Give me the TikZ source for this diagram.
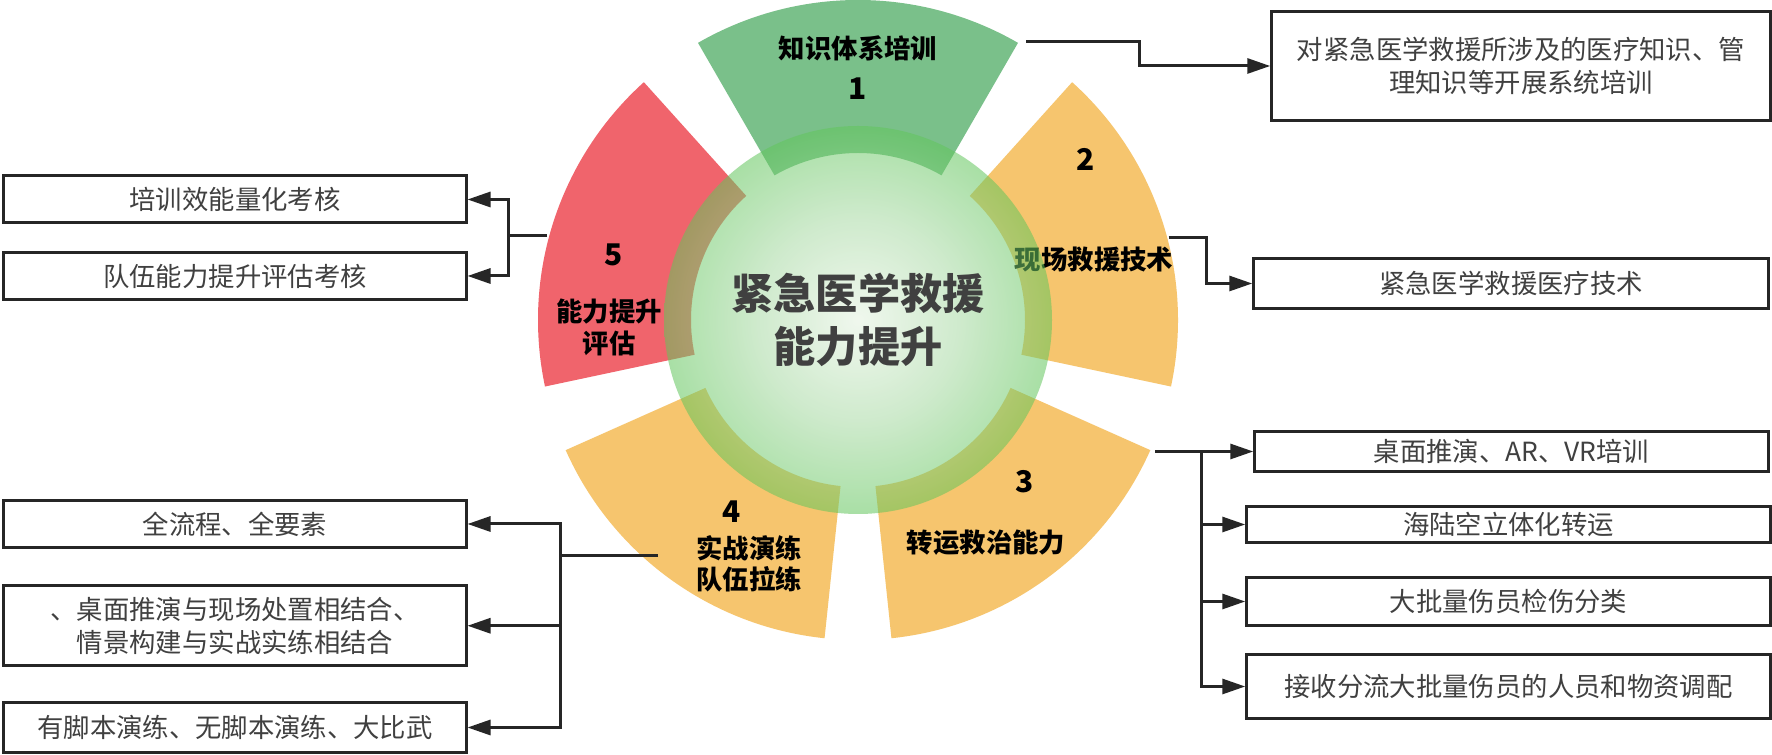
\documentclass[tikz,border=0pt]{standalone}
\usepackage{fontspec}
\setmainfont{Noto Sans CJK SC}
\usetikzlibrary{arrows.meta}
\definecolor{secgreen}{RGB}{122,192,138}
\definecolor{secorange}{RGB}{246,197,110}
\definecolor{secred}{RGB}{240,100,108}
\definecolor{hubin}{RGB}{228,242,224}
\definecolor{hubmid}{RGB}{168,218,164}
\definecolor{hubout}{RGB}{98,198,92}
\pgfdeclareradialshading{hubglow}{\pgfpointorigin}{color(0bp)=(hubin); color(13bp)=(hubmid); color(25bp)=(hubout); color(50bp)=(hubout)}
\tikzset{
  infobox/.style={rectangle, draw=black!85, line width=0.06cm, text=black!75, font=\fontsize{15}{19}\selectfont, align=center, inner sep=0pt},
  seclabel/.style={font=\fontsize{15}{18}\selectfont\bfseries, align=center},
  secnum/.style={font=\fontsize{17}{20}\selectfont\bfseries},
  hub/.style={circle, minimum size=7.76cm, inner sep=0pt, shade, shading=hubglow, fill opacity=0.55, text opacity=1, text=black!75, font=\fontsize{24}{30}\selectfont\bfseries, align=center},
  link/.style={draw=black!85, line width=0.06cm},
  >={Triangle[length=0.46cm,width=0.3cm]}
}
\begin{document}
\begin{tikzpicture}
\fill[white] (0,0) rectangle (35.44,15.1);
\useasboundingbox (0,0) rectangle (35.44,15.1);

% five sectors round the hub
\begin{scope}[shift={(17.16,8.7)}]
\foreach \a/\col in {90/secgreen, 18/secorange, -54/secorange, -126/secorange, 162/secred}
  \fill[\col] (\a-30:3.34) arc[start angle=\a-30, end angle=\a+30, radius=3.34] -- (\a+30:6.4) arc[start angle=\a+30, end angle=\a-30, radius=6.4] -- cycle;
\end{scope}

\node[seclabel] (t1) at (17.16,14.13) {知识体系培训};
\node[secnum] (n1) at (17.16,13.33) {1};
\node[secnum] (n2) at (21.72,11.91) {2};
\node[seclabel] (t2) at (21.88,9.9) {现场救援技术};
\node[secnum] (n3) at (20.5,5.47) {3};
\node[seclabel] (t3) at (19.72,4.24) {转运救治能力};
\node[secnum] (n4) at (14.63,4.87) {4};
\node[seclabel] (t4) at (14.98,3.82) {实战演练\\队伍拉练};
\node[secnum] (n5) at (12.28,10.0) {5};
\node[seclabel] (t5) at (12.18,8.55) {能力提升\\评估};

\node[hub] (hub) at (17.16,8.7) {紧急医学救援\\能力提升};

% boxes on the left
\node[infobox, minimum width=9.24cm, minimum height=0.94cm] (boxA) at (4.7,11.11) {培训效能量化考核};
\node[infobox, minimum width=9.24cm, minimum height=0.94cm] (boxB) at (4.7,9.58) {队伍能力提升评估考核};
\node[infobox, minimum width=9.24cm, minimum height=0.95cm] (boxC) at (4.7,4.62) {全流程、全要素};
\node[infobox, minimum width=9.24cm, minimum height=1.59cm] (boxD) at (4.7,2.585) {、桌面推演与现场处置相结合、\\情景构建与实战实练相结合};
\node[infobox, minimum width=9.24cm, minimum height=1.0cm] (boxE) at (4.7,0.55) {有脚本演练、无脚本演练、大比武};

% boxes on the right
\node[infobox, minimum width=9.97cm, minimum height=2.18cm] (box1) at (30.42,13.78) {对紧急医学救援所涉及的医疗知识、管\\理知识等开展系统培训};
\node[infobox, minimum width=10.29cm, minimum height=1.0cm] (box2) at (30.22,9.43) {紧急医学救援医疗技术};
\node[infobox, minimum width=10.27cm, minimum height=0.8cm] (boxF) at (30.23,6.07) {桌面推演、AR、VR培训};
\node[infobox, minimum width=10.47cm, minimum height=0.72cm] (boxG) at (30.17,4.61) {海陆空立体化转运};
\node[infobox, minimum width=10.47cm, minimum height=0.95cm] (boxH) at (30.17,3.07) {大批量伤员检伤分类};
\node[infobox, minimum width=10.47cm, minimum height=1.27cm] (boxI) at (30.17,1.37) {接收分流大批量伤员的人员和物资调配};

% connectors
\coordinate (k1) at (20.52,14.27);
\coordinate (k2) at (23.37,10.35);
\coordinate (k3) at (23.1,6.07);
\coordinate (j3) at (24.03,6.07);
\coordinate (k4) at (13.16,3.98);
\coordinate (j4) at (11.2,3.98);
\coordinate (k5) at (10.94,10.39);
\coordinate (j5) at (10.17,10.39);

\draw[link,->] (k1) -- ++(2.27,0) |- (box1);
\draw[link,->] (k2) -- ++(0.76,0) |- (box2);
\draw[link] (k3) -- (j3);
\foreach \b in {boxF,boxG,boxH,boxI}
  \draw[link,->] (j3) |- (\b);
\draw[link] (k4) -- (j4);
\foreach \b in {boxC,boxD,boxE}
  \draw[link,->] (j4) |- (\b);
\draw[link] (k5) -- (j5);
\foreach \b in {boxA,boxB}
  \draw[link,->] (j5) |- (\b);
\end{tikzpicture}
\end{document}
